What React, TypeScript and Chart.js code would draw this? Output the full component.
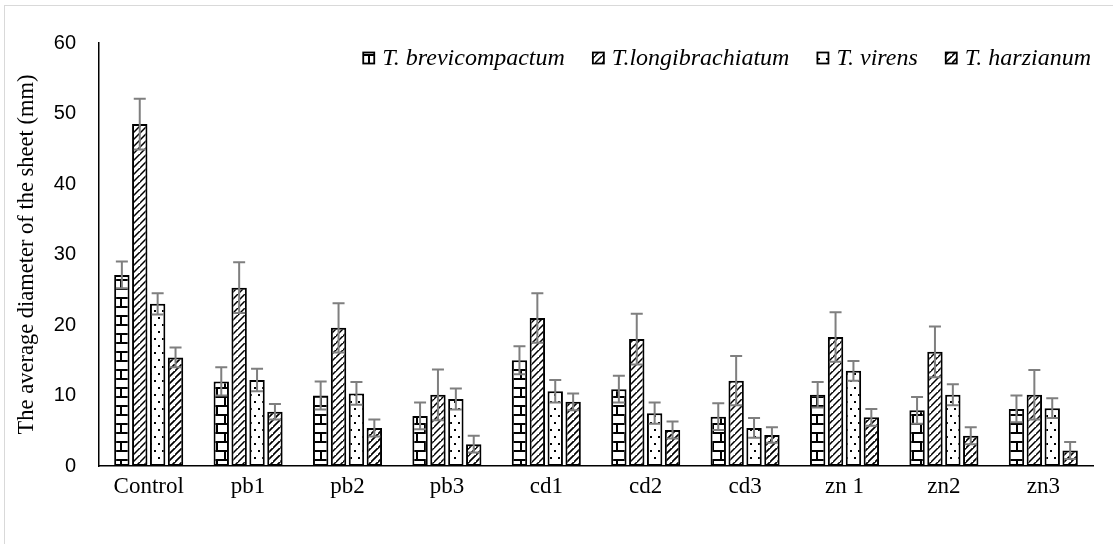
import React, { useEffect, useRef } from 'react';
import { Chart, registerables } from 'chart.js';

Chart.register(...registerables);

const categories = ['Control', 'pb1', 'pb2', 'pb3', 'cd1', 'cd2', 'cd3', 'zn 1', 'zn2', 'zn3'];
const seriesNames = ['T. brevicompactum', 'T.longibrachiatum', 'T. virens', 'T. harzianum'];
const brevicompactum = [27.1, 12.0, 10.0, 7.1, 15.0, 10.9, 7.0, 10.1, 7.9, 8.1];
const brevicompactumErr = [1.9, 2.0, 2.0, 1.9, 2.0, 1.9, 1.9, 1.8, 1.9, 1.9];
const longibrachiatum = [48.5, 25.3, 19.6, 10.1, 21.0, 18.0, 12.1, 18.3, 16.2, 10.1];
const longibrachiatumErr = [3.6, 3.6, 3.5, 3.6, 3.5, 3.6, 3.5, 3.5, 3.6, 3.5];
const virens = [23.0, 12.2, 10.3, 9.5, 10.6, 7.5, 5.4, 13.5, 10.1, 8.2];
const virensErr = [1.5, 1.6, 1.6, 1.5, 1.6, 1.5, 1.4, 1.4, 1.5, 1.4];
const harzianum = [15.4, 7.7, 5.4, 3.1, 9.1, 5.1, 4.4, 6.9, 4.3, 2.2];
const harzianumErr = [1.4, 1.1, 1.2, 1.2, 1.2, 1.2, 1.1, 1.2, 1.2, 1.2];
const yTicks = [0, 10, 20, 30, 40, 50, 60];
const yTitle = 'The average diameter of the sheet (mm)';

function makeTile(w: number, h: number, draw: (c: CanvasRenderingContext2D) => void) {
  const t = document.createElement('canvas');
  t.width = w;
  t.height = h;
  const c = t.getContext('2d') as CanvasRenderingContext2D;
  c.fillStyle = '#fff';
  c.fillRect(0, 0, w, h);
  c.fillStyle = '#000';
  c.strokeStyle = '#000';
  draw(c);
  return t;
}

function brickTile() {
  return makeTile(16, 18, (c) => {
    c.fillRect(0, 0, 16, 2);
    c.fillRect(0, 9, 16, 2);
    c.fillRect(0, 2, 2, 7);
    c.fillRect(8, 11, 2, 7);
  });
}

function diagTile(size: number, lw: number) {
  return makeTile(size, size, (c) => {
    c.lineWidth = lw;
    c.beginPath();
    c.moveTo(-1, size + 1);
    c.lineTo(size + 1, -1);
    c.moveTo(-size - 1, size + 1);
    c.lineTo(1, -1);
    c.moveTo(size - 1, 2 * size + 1);
    c.lineTo(2 * size + 1, size - 1);
    c.stroke();
  });
}

function dotTile() {
  return makeTile(8, 14, (c) => {
    c.fillRect(2, 2, 2, 2);
    c.fillRect(6, 9, 2, 2);
  });
}

const errorBarPlugin = {
  id: 'errorBars',
  afterDatasetsDraw(chart: any) {
    const { ctx } = chart;
    const y = chart.scales.y;
    ctx.save();
    ctx.strokeStyle = '#7f7f7f';
    ctx.lineWidth = 2;
    chart.data.datasets.forEach((ds: any, i: number) => {
      const meta = chart.getDatasetMeta(i);
      meta.data.forEach((bar: any, j: number) => {
        const v = ds.data[j];
        const e = ds.errors[j];
        const yTop = y.getPixelForValue(v + e);
        const yBot = y.getPixelForValue(v - e);
        const x = bar.x;
        ctx.beginPath();
        ctx.moveTo(x, yTop);
        ctx.lineTo(x, yBot);
        ctx.moveTo(x - 6, yTop);
        ctx.lineTo(x + 6, yTop);
        ctx.moveTo(x - 6, yBot);
        ctx.lineTo(x + 6, yBot);
        ctx.stroke();
      });
    });
    ctx.restore();
  },
};

const legendPlugin = {
  id: 'customLegend',
  afterDraw(chart: any) {
    const { ctx } = chart;
    ctx.save();
    ctx.font = 'italic 24px "Liberation Serif"';
    ctx.textBaseline = 'middle';
    ctx.textAlign = 'left';
    const box = 11;
    const gapBoxText = 8;
    const gapItems = 28;
    const right = 1091;
    const cy = 58;
    const widths = chart.data.datasets.map((ds: any) => ctx.measureText(ds.label).width);
    let total = 0;
    widths.forEach((w: number, i: number) => {
      total += box + gapBoxText + w + (i < widths.length - 1 ? gapItems : 0);
    });
    let x = right - total;
    chart.data.datasets.forEach((ds: any, i: number) => {
      ctx.fillStyle = ds.backgroundColor;
      ctx.fillRect(x, cy - box / 2, box, box);
      ctx.strokeStyle = '#000';
      ctx.lineWidth = 1.8;
      ctx.strokeRect(x, cy - box / 2, box, box);
      ctx.fillStyle = '#000';
      ctx.fillText(ds.label, x + box + gapBoxText, cy + 1);
      x += box + gapBoxText + widths[i] + gapItems;
    });
    ctx.restore();
  },
};

export default function App() {
  const canvasRef = useRef<HTMLCanvasElement | null>(null);

  useEffect(() => {
    const canvas = canvasRef.current;
    if (!canvas) return;
    const c2d = canvas.getContext('2d') as CanvasRenderingContext2D;
    const patBrick = c2d.createPattern(brickTile(), 'repeat');
    const patDiagA = c2d.createPattern(diagTile(7, 1.5), 'repeat');
    const patDots = c2d.createPattern(dotTile(), 'repeat');
    const patDiagB = c2d.createPattern(diagTile(7, 1.7), 'repeat');

    const values = [brevicompactum, longibrachiatum, virens, harzianum];
    const errs = [brevicompactumErr, longibrachiatumErr, virensErr, harzianumErr];
    const pats = [patBrick, patDiagA, patDots, patDiagB];

    const chart = new Chart(canvas, {
      type: 'bar',
      data: {
        labels: categories,
        datasets: seriesNames.map((name, i) => ({
          label: name,
          data: values[i],
          errors: errs[i],
          backgroundColor: pats[i],
          borderColor: '#000',
          borderWidth: 2,
          borderSkipped: false,
          categoryPercentage: 0.72,
          barPercentage: 0.86,
        })) as any,
      },
      options: {
        animation: false,
        responsive: true,
        maintainAspectRatio: false,
        layout: { padding: { left: 10, right: 20, top: 43, bottom: 0 } },
        plugins: {
          legend: { display: false },
          tooltip: { enabled: false },
        },
        scales: {
          x: {
            grid: { display: false, drawTicks: false },
            border: { display: true, color: '#000', width: 1.5 },
            ticks: {
              font: { family: '"Liberation Serif"', size: 23 },
              color: '#000',
              padding: 7,
            },
            afterFit: (s: any) => {
              s.height = 78;
            },
          },
          y: {
            min: 0,
            max: 60,
            afterBuildTicks: (s: any) => {
              s.ticks = yTicks.map((v) => ({ value: v }));
            },
            grid: { display: false, drawTicks: false },
            border: { display: true, color: '#000', width: 1.5 },
            ticks: {
              font: { family: '"Liberation Sans"', size: 20 },
              color: '#000',
              padding: 23,
            },
            title: {
              display: true,
              text: yTitle,
              font: { family: '"Liberation Serif"', size: 22.5 },
              color: '#000',
              padding: { top: 4, bottom: 0 },
            },
            afterFit: (s: any) => {
              s.width = 89;
            },
          },
        },
      },
      plugins: [errorBarPlugin, legendPlugin],
    });
    return () => chart.destroy();
  }, []);

  return (
    <div style={{ position: 'relative', width: 1113, height: 544, overflow: 'hidden', background: '#fff' }}>
      <style>{'body{margin:0;overflow:hidden;background:#fff}'}</style>
      <div
        style={{
          position: 'absolute',
          left: 4,
          top: 5,
          width: 1200,
          height: 600,
          border: '1.5px solid #d9d9d9',
          boxSizing: 'border-box',
        }}
      />
      <div style={{ position: 'absolute', left: 0, top: 0, width: 1113, height: 544 }}>
        <canvas ref={canvasRef} />
      </div>
    </div>
  );
}
